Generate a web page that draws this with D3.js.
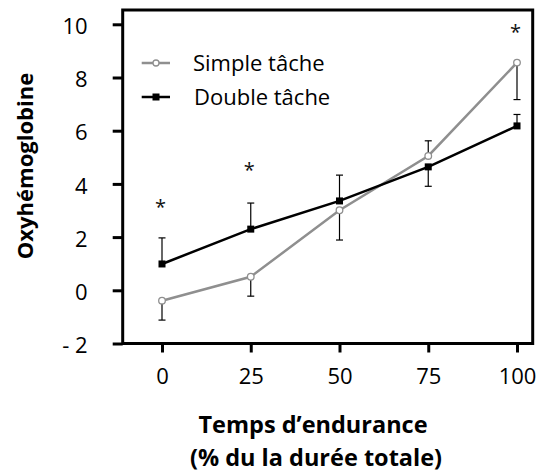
<!DOCTYPE html>
<html><head><meta charset="utf-8">
<script src="https://cdn.jsdelivr.net/npm/d3@7"></script>
<style>
html,body{margin:0;padding:0;background:#fff;}
svg{display:block;font-family:"Open Sans",sans-serif;}
</style></head>
<body><svg id="c" width="539" height="474"></svg>
<script>
const times = [0, 25, 50, 75, 100];
const simpleValues = [-0.39, 0.51, 3.01, 5.05, 8.56];
const simpleErrEnd = [-1.12, -0.22, 1.89, 5.62, 7.17];
const doubleValues = [0.99, 2.30, 3.36, 4.64, 6.18];
const doubleErrEnd = [1.97, 3.28, 4.33, 3.91, 6.61];
const sigTimes = [0, 25, 100];
const sigLevels = [3.29, 4.68, 9.87];
const yTicks = [-2, 0, 2, 4, 6, 8, 10];
const yTickLabels = ["- 2", "0", "2", "4", "6", "8", "10"];
const xTicks = [0, 25, 50, 75, 100];
const seriesNames = ["Simple tâche", "Double tâche"];

const svg = d3.select("#c");
const x = d3.scaleLinear().domain([0, 100]).range([162, 517]);
const y = d3.scaleLinear().domain([-2, 10]).range([343.5, 24.3]);
const gray = "#8f8f8f";

// frame
svg.append("rect").attr("x", 122.7).attr("y", 10).attr("width", 410).attr("height", 333.5)
  .attr("fill", "none").attr("stroke", "#000").attr("stroke-width", 3);

// axes
const yAx = svg.append("g").attr("transform", "translate(122.7,0)")
  .call(d3.axisLeft(y).tickValues(yTicks).tickSize(10).tickPadding(25)
    .tickFormat(d => yTickLabels[yTicks.indexOf(d)]));
yAx.select(".domain").remove();
yAx.selectAll("line").attr("stroke-width", 3);
yAx.selectAll("text").attr("font-size", 22).attr("font-family", "Open Sans").attr("fill", "#000").attr("dy", "0.42em");

const xAx = svg.append("g").attr("transform", "translate(0,343.5)")
  .call(d3.axisBottom(x).tickValues(xTicks).tickSize(9).tickPadding(16).tickFormat(d3.format("d")));
xAx.select(".domain").remove();
xAx.selectAll("line").attr("stroke-width", 3);
xAx.selectAll("text").attr("font-size", 22).attr("font-family", "Open Sans").attr("fill", "#000");

// error bars
function errBars(vals, ends) {
  const g = svg.append("g").attr("stroke", "#000").attr("stroke-width", 1.2);
  times.forEach((t, i) => {
    g.append("line").attr("x1", x(t)).attr("x2", x(t)).attr("y1", y(vals[i])).attr("y2", y(ends[i]));
    g.append("line").attr("x1", x(t) - 3.5).attr("x2", x(t) + 3.5).attr("y1", y(ends[i])).attr("y2", y(ends[i]));
  });
}
errBars(simpleValues, simpleErrEnd);
errBars(doubleValues, doubleErrEnd);

const line = d3.line().x((d, i) => x(times[i])).y(d => y(d));
svg.append("path").datum(simpleValues).attr("d", line).attr("fill", "none").attr("stroke", gray).attr("stroke-width", 2.5);
svg.append("path").datum(doubleValues).attr("d", line).attr("fill", "none").attr("stroke", "#000").attr("stroke-width", 2.5);

svg.selectAll(".sm").data(simpleValues).enter().append("circle")
  .attr("cx", (d, i) => x(times[i])).attr("cy", d => y(d)).attr("r", 3.3)
  .attr("fill", "#fff").attr("stroke", gray).attr("stroke-width", 1.3);
svg.selectAll(".dm").data(doubleValues).enter().append("rect")
  .attr("x", (d, i) => x(times[i]) - 3.5).attr("y", d => y(d) - 3.5).attr("width", 7).attr("height", 7)
  .attr("fill", "#000");

// significance stars
svg.selectAll(".star").data(sigLevels).enter().append("text")
  .attr("x", (d, i) => x(sigTimes[i]) - 1.5).attr("y", d => y(d) + 11)
  .attr("text-anchor", "middle").attr("font-size", 20).attr("font-family", "Open Sans").attr("fill", "#111")
  .text("*");

// legend
const lg = svg.append("g");
lg.append("line").attr("x1", 141.7).attr("x2", 170).attr("y1", 63).attr("y2", 63).attr("stroke", gray).attr("stroke-width", 2.5);
lg.append("circle").attr("cx", 156).attr("cy", 63).attr("r", 3).attr("fill", "#fff").attr("stroke", gray).attr("stroke-width", 1.3);
lg.append("line").attr("x1", 141.7).attr("x2", 170).attr("y1", 97).attr("y2", 97).attr("stroke", "#000").attr("stroke-width", 2.5);
lg.append("rect").attr("x", 152.5).attr("y", 93.5).attr("width", 7).attr("height", 7).attr("fill", "#000");
lg.append("text").attr("x", 193).attr("y", 71).attr("font-size", 22).attr("fill", "#000").text(seriesNames[0]);
lg.append("text").attr("x", 194).attr("y", 105).attr("font-size", 22).attr("fill", "#000").text(seriesNames[1]);

// axis titles
svg.append("text").attr("transform", "translate(33,166) rotate(-90)").attr("text-anchor", "middle")
  .attr("font-size", 22).attr("font-weight", "bold").attr("fill", "#000").text("Oxyhémoglobine");
svg.append("text").attr("x", 313).attr("y", 433).attr("text-anchor", "middle")
  .attr("font-size", 23.5).attr("font-weight", "bold").attr("fill", "#000").text("Temps d’endurance");
svg.append("text").attr("x", 316).attr("y", 466).attr("text-anchor", "middle")
  .attr("font-size", 23.5).attr("font-weight", "bold").attr("fill", "#000").text("(% du la durée totale)");
</script></body></html>
